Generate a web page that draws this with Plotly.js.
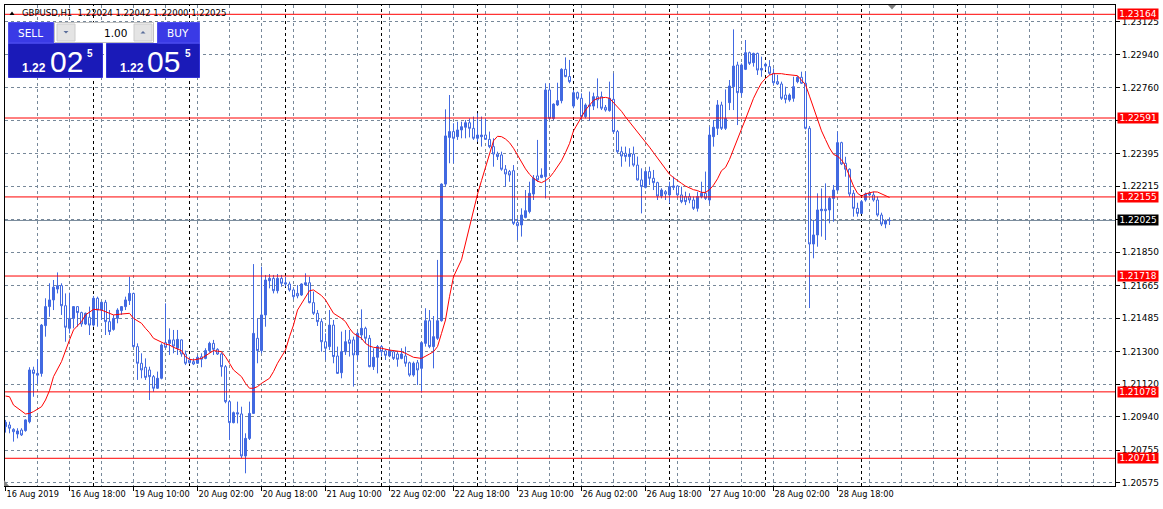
<!DOCTYPE html>
<html><head><meta charset="utf-8">
<script src="https://cdn.plot.ly/plotly-3.0.1.min.js"></script>
<style>html,body{margin:0;padding:0;background:#fff;}#chart{width:1163px;height:509px;}</style>
</head><body><div id="chart"></div>
<script>
// ---------------- DATA ----------------
const symbolName = 'GBPUSD,H1';
const lastBarText = ['1.22024', '1.22042', '1.22000', '1.22025'];

const open = [1.20886,1.20895,1.20871,1.20845,1.20867,1.20864,1.20913,1.21199,1.21180,1.21180,
1.21444,1.21549,1.21586,1.21646,1.21665,1.21554,1.21429,1.21484,1.21549,1.21516,
1.21453,1.21490,1.21447,1.21595,1.21530,1.21573,1.21466,1.21423,1.21484,1.21527,
1.21549,1.21582,1.21622,1.21328,1.21236,1.21214,1.21199,1.21162,1.21098,1.21153,
1.21350,1.21346,1.21365,1.21319,1.21365,1.21287,1.21254,1.21245,1.21236,1.21272,
1.21263,1.21306,1.21346,1.21313,1.21287,1.21217,1.21024,1.20908,1.20963,1.20956,
1.20724,1.20821,1.20959,1.21374,1.21306,1.21503,1.21692,1.21705,1.21637,1.21705,
1.21681,1.21674,1.21641,1.21622,1.21613,1.21670,1.21681,1.21571,1.21512,1.21466,
1.21355,1.21328,1.21447,1.21276,1.21184,1.21300,1.21365,1.21365,1.21282,1.21392,
1.21429,1.21374,1.21217,1.21269,1.21328,1.21304,1.21276,1.21300,1.21287,1.21263,
1.21276,1.21239,1.21171,1.21239,1.21208,1.21346,1.21471,1.21328,1.21374,1.21471,
1.22226,1.22484,1.22516,1.22488,1.22525,1.22540,1.22565,1.22534,1.22479,1.22488,
1.22497,1.22473,1.22433,1.22392,1.22387,1.22308,1.22295,1.22300,1.22013,1.22000,
1.22042,1.22074,1.22171,1.22271,1.22263,1.22267,1.22746,1.22589,1.22663,1.22687,
1.22860,1.22820,1.22657,1.22731,1.22700,1.22599,1.22663,1.22657,1.22709,1.22709,
1.22650,1.22632,1.22694,1.22516,1.22405,1.22396,1.22378,1.22392,1.22331,1.22249,
1.22208,1.22295,1.22258,1.22234,1.22160,1.22184,1.22166,1.22208,1.22215,1.22166,
1.22157,1.22157,1.22138,1.22092,1.22157,1.22175,1.22138,1.22488,1.22534,1.22663,
1.22534,1.22676,1.22764,1.22884,1.22731,1.22860,1.22952,1.22897,1.22948,1.22856,
1.22878,1.22875,1.22838,1.22792,1.22779,1.22718,1.22691,1.22700,1.22792,1.22816,
1.22783,1.22534,1.21895,1.21945,1.22079,1.22087,1.22083,1.22147,1.22193,1.22455,
1.22341,1.22308,1.22175,1.22092,1.22064,1.22138,1.22166,1.22166,1.22138,1.22055,
1.22005,1.22024];

const high = [1.20923,1.20913,1.20877,1.20877,1.20877,1.20926,1.21214,1.21217,1.21258,1.21453,
1.21595,1.21678,1.21696,1.21738,1.21678,1.21622,1.21626,1.21552,1.21552,1.21521,
1.21516,1.21549,1.21608,1.21604,1.21576,1.21586,1.21530,1.21503,1.21540,1.21552,
1.21604,1.21714,1.21626,1.21346,1.21291,1.21263,1.21217,1.21171,1.21190,1.21346,
1.21567,1.21429,1.21420,1.21420,1.21368,1.21306,1.21272,1.21263,1.21282,1.21291,
1.21319,1.21355,1.21365,1.21319,1.21295,1.21226,1.21033,1.20969,1.21024,1.20996,
1.20849,1.21024,1.21784,1.21484,1.21770,1.21724,1.21729,1.21724,1.21729,1.21724,
1.21714,1.21687,1.21650,1.21668,1.21678,1.21733,1.21714,1.21632,1.21530,1.21484,
1.21401,1.21530,1.21475,1.21328,1.21411,1.21420,1.21420,1.21383,1.21411,1.21534,
1.21438,1.21392,1.21319,1.21337,1.21337,1.21313,1.21319,1.21309,1.21300,1.21319,
1.21328,1.21245,1.21245,1.21254,1.21355,1.21540,1.21530,1.21497,1.21807,1.22230,
1.22639,1.22718,1.22562,1.22571,1.22571,1.22580,1.22589,1.22599,1.22617,1.22599,
1.22589,1.22516,1.22479,1.22405,1.22405,1.22331,1.22304,1.22331,1.22037,1.22092,
1.22193,1.22239,1.22276,1.22470,1.22313,1.22783,1.22783,1.22672,1.22786,1.22866,
1.22926,1.22912,1.22746,1.22737,1.22727,1.22672,1.22737,1.22731,1.22810,1.22737,
1.22663,1.22792,1.22838,1.22525,1.22433,1.22433,1.22424,1.22433,1.22378,1.22313,
1.22304,1.22322,1.22304,1.22239,1.22203,1.22193,1.22239,1.22267,1.22221,1.22212,
1.22184,1.22175,1.22157,1.22184,1.22239,1.22295,1.22543,1.22580,1.22690,1.22681,
1.22749,1.22801,1.23081,1.22902,1.22893,1.23022,1.22958,1.22952,1.22952,1.22930,
1.22897,1.22911,1.22865,1.22829,1.22792,1.22764,1.22727,1.22819,1.22823,1.22847,
1.22847,1.22547,1.22028,1.22175,1.22202,1.22230,1.22156,1.22221,1.22516,1.22460,
1.22377,1.22313,1.22193,1.22123,1.22138,1.22179,1.22179,1.22184,1.22156,1.22068,
1.22031,1.22042];

const low = [1.20853,1.20849,1.20803,1.20821,1.20834,1.20858,1.20904,1.21051,1.21121,1.21162,
1.21383,1.21493,1.21530,1.21622,1.21503,1.21355,1.21401,1.21429,1.21438,1.21438,
1.21447,1.21392,1.21438,1.21438,1.21475,1.21392,1.21392,1.21416,1.21457,1.21503,
1.21530,1.21558,1.21324,1.21144,1.21153,1.21144,1.21033,1.21079,1.21094,1.21147,
1.21319,1.21282,1.21291,1.21282,1.21272,1.21226,1.21232,1.21226,1.21232,1.21214,
1.21258,1.21295,1.21282,1.21282,1.21162,1.21015,1.20812,1.20904,1.20904,1.20711,
1.20628,1.20812,1.20956,1.21236,1.21291,1.21438,1.21650,1.21622,1.21622,1.21659,
1.21659,1.21632,1.21589,1.21595,1.21608,1.21663,1.21567,1.21503,1.21442,1.21300,
1.21254,1.21309,1.21236,1.21177,1.21153,1.21282,1.21273,1.21107,1.21254,1.21365,
1.21346,1.21214,1.21199,1.21180,1.21273,1.21254,1.21269,1.21254,1.21217,1.21258,
1.21217,1.21162,1.21162,1.21116,1.21074,1.21328,1.21319,1.21208,1.21365,1.21466,
1.22212,1.22341,1.22341,1.22470,1.22479,1.22479,1.22484,1.22470,1.22460,1.22433,
1.22470,1.22424,1.22322,1.22359,1.22300,1.22212,1.22239,1.22000,1.21917,1.21936,
1.22037,1.22064,1.22138,1.22239,1.22258,1.22147,1.22580,1.22580,1.22657,1.22672,
1.22816,1.22783,1.22645,1.22691,1.22580,1.22589,1.22576,1.22635,1.22645,1.22635,
1.22626,1.22626,1.22506,1.22396,1.22322,1.22350,1.22322,1.22322,1.22245,1.22064,
1.22202,1.22221,1.22193,1.22138,1.22147,1.22138,1.22120,1.22193,1.22157,1.22120,
1.22110,1.22120,1.22083,1.22074,1.22147,1.22138,1.22116,1.22433,1.22497,1.22525,
1.22525,1.22635,1.22635,1.22552,1.22709,1.22856,1.22884,1.22875,1.22829,1.22819,
1.22856,1.22829,1.22773,1.22773,1.22691,1.22672,1.22681,1.22681,1.22783,1.22779,
1.22528,1.21541,1.21816,1.21880,1.21936,1.21917,1.22009,1.22018,1.22184,1.22331,
1.22267,1.22156,1.22046,1.22046,1.22061,1.22129,1.22160,1.22129,1.22046,1.21994,
1.21982,1.22000];

const close = [1.20910,1.20877,1.20858,1.20862,1.20840,1.20923,1.21199,1.21180,1.21170,1.21447,
1.21549,1.21586,1.21656,1.21665,1.21554,1.21435,1.21484,1.21549,1.21516,1.21453,
1.21512,1.21447,1.21595,1.21530,1.21573,1.21466,1.21411,1.21484,1.21530,1.21549,
1.21586,1.21622,1.21328,1.21236,1.21199,1.21158,1.21162,1.21098,1.21153,1.21337,
1.21324,1.21365,1.21331,1.21368,1.21287,1.21236,1.21239,1.21232,1.21269,1.21258,
1.21306,1.21346,1.21313,1.21287,1.21217,1.21024,1.20908,1.20963,1.20956,1.20724,
1.20821,1.20959,1.21401,1.21306,1.21503,1.21696,1.21705,1.21637,1.21705,1.21678,
1.21674,1.21641,1.21604,1.21608,1.21674,1.21681,1.21571,1.21512,1.21466,1.21355,
1.21319,1.21447,1.21273,1.21180,1.21300,1.21355,1.21346,1.21282,1.21401,1.21429,
1.21374,1.21217,1.21269,1.21328,1.21300,1.21280,1.21306,1.21263,1.21258,1.21287,
1.21236,1.21171,1.21236,1.21199,1.21350,1.21471,1.21328,1.21383,1.21471,1.22226,
1.22492,1.22516,1.22479,1.22525,1.22543,1.22565,1.22534,1.22479,1.22497,1.22497,
1.22473,1.22433,1.22392,1.22378,1.22308,1.22282,1.22276,1.22009,1.21996,1.22055,
1.22079,1.22175,1.22258,1.22249,1.22276,1.22746,1.22589,1.22668,1.22687,1.22860,
1.22820,1.22792,1.22731,1.22700,1.22599,1.22663,1.22657,1.22709,1.22691,1.22645,
1.22635,1.22700,1.22516,1.22405,1.22381,1.22378,1.22392,1.22331,1.22249,1.22212,
1.22295,1.22258,1.22234,1.22160,1.22193,1.22171,1.22212,1.22215,1.22166,1.22129,
1.22129,1.22138,1.22092,1.22157,1.22175,1.22147,1.22497,1.22540,1.22663,1.22534,
1.22589,1.22768,1.22878,1.22731,1.22884,1.22952,1.22893,1.22948,1.22856,1.22865,
1.22888,1.22838,1.22786,1.22779,1.22700,1.22694,1.22718,1.22764,1.22816,1.22783,
1.22534,1.21895,1.21945,1.22083,1.22087,1.22079,1.22147,1.22193,1.22455,1.22337,
1.22308,1.22171,1.22092,1.22064,1.22129,1.22171,1.22175,1.22138,1.22055,1.22005,
1.22024,1.22025];

// moving average (bar number, value)
const maBar = [0,1,2,4,5,6,7,9,10,11,12,14,15,16,17,19,20,21,22,24,25,26,27,29,30,31,32,34,35,36,37,39,40,41,42,44,45,46,47,49,50,51,52,54,55,56,57,59,60,61,62,63,64,66,67,68,70,71,72,73,75,76,77,78,79,80,81,82,84,85,86,87,89,90,91,92,94,95,96,97,99,100,101,102,104,105,106,107,108,109,110,111,112,
114,115,116,117,118,119,120,121,122,123,124,125,126,127,128,129,130,131,132,133,134,135,136,137,138,139,140,141,142,143,144,145,146,147,148,149,150,151,152,153,154,155,156,157,158,159,160,161,162,163,164,165,166,167,168,169,170,171,172,173,174,175,176,177,178,
179,180,181,182,183,184,185,186,187,188,189,190,191,192,193,194,195,196,197,198,199,200,201,202,203,204,205,206,207,208,209,210,211,212,213,214,215,216,217,218,219,220,221];
const maValue = [1.21055,1.21051,1.21005,1.20969,1.20956,1.20959,1.20969,1.20996,1.21033,1.21085,1.21162,1.21245,1.21309,1.21365,1.21420,1.21466,1.21503,1.21521,1.21534,1.21530,1.21521,1.21508,1.21503,1.21508,1.21512,1.21512,1.21484,1.21457,1.21429,1.21405,1.21374,1.21350,1.21342,1.21337,1.21324,1.21306,1.21272,1.21258,1.21254,1.21263,1.21278,1.21295,1.21306,1.21300,1.21272,1.21236,1.21199,1.21162,1.21125,1.21098,1.21098,1.21107,1.21125,1.21153,1.21190,1.21236,1.21309,1.21383,1.21447,1.21530,1.21604,1.21637,1.21641,1.21626,1.21610,1.21586,1.21549,1.21512,1.21484,1.21466,1.21429,1.21401,1.21374,1.21346,1.21331,1.21324,1.21319,1.21313,1.21309,1.21306,1.21300,1.21291,1.21282,1.21269,1.21263,1.21273,1.21287,1.21300,1.21328,1.21401,1.21475,1.21604,1.21714,
1.21808,1.21900,1.21995,1.22080,1.22170,1.22245,1.22320,1.22400,1.22465,1.22490,1.22488,1.22475,1.22455,1.22424,1.22385,1.22350,1.22310,1.22280,1.22258,1.22242,1.22234,1.22245,1.22262,1.22290,1.22320,1.22355,1.22400,1.22450,1.22520,1.22560,1.22595,1.22635,1.22662,1.22688,1.22700,1.22703,1.22705,1.22700,1.22675,1.22655,1.22628,1.22597,1.22570,1.22540,1.22510,1.22485,1.22460,1.22430,1.22400,1.22370,1.22335,1.22305,1.22280,1.22262,1.22248,1.22230,1.22215,1.22205,1.22195,1.22190,1.22180,1.22180,1.22195,1.22220,1.22255,
1.22300,1.22318,1.22362,1.22415,1.22470,1.22530,1.22585,1.22648,1.22700,1.22745,1.22785,1.22810,1.22828,1.22836,1.22838,1.22836,1.22832,1.22829,1.22829,1.22825,1.22800,1.22775,1.22712,1.22650,1.22585,1.22520,1.22472,1.22425,1.22390,1.22380,1.22360,1.22325,1.22270,1.22215,1.22175,1.22160,1.22172,1.22179,1.22183,1.22182,1.22172,1.22160,1.22152];

const timeLabels = ['16 Aug 2019','16 Aug 18:00','19 Aug 10:00','20 Aug 02:00','20 Aug 18:00','21 Aug 10:00','22 Aug 02:00','22 Aug 18:00','23 Aug 10:00','26 Aug 02:00','26 Aug 18:00','27 Aug 10:00','28 Aug 02:00','28 Aug 18:00'];
const barsPerLabel = 16;
const priceTicks = ['1.23125','1.22940','1.22760','1.22580','1.22395','1.22215','1.22030','1.21850','1.21665','1.21485','1.21300','1.21120','1.20940','1.20755','1.20575'];
const hiddenPriceTicks = ['1.22580', '1.22030'];   // covered by line labels in the terminal
const levelLines = [1.23164, 1.22591, 1.22155, 1.21718, 1.21078, 1.20711];
const levelLabels = ['1.23164','1.22591','1.22155','1.21718','1.21078','1.20711'];
const bidPrice = 1.22025;
const bidLabel = '1.22025';
const daySeparatorBars = [22, 46, 70, 94, 118, 142, 166, 190, 214, 238];
const sellQuote = ['1.22', '02', '5'];
const buyQuote = ['1.22', '05', '5'];
const lotSize = '1.00';

// ---------------- LAYOUT HELPERS ----------------
const W = 1163, H = 509, ML = 5, MR = 48, MT = 5, MB = 23;
const PW = W - ML - MR, PH = H - MT - MB;
const px = x => (x - ML) / PW;
const py = y => (H - MB - y) / PH;
const FONT = 'DejaVu Sans, Verdana, sans-serif';
const GRID = '#778899';
const BLUE = '#4169E1';

const bars = open.map((_, i) => i);

const candle = {
  type: 'candlestick', x: bars, open: open, high: high, low: low, close: close,
  line: {width: 1},
  increasing: {line: {color: BLUE, width: 1}, fillcolor: BLUE},
  decreasing: {line: {color: BLUE, width: 1}, fillcolor: '#FFFFFF'},
  whiskerwidth: 0, hoverinfo: 'skip', showlegend: false
};
const ma = {
  type: 'scatter', mode: 'lines', x: maBar, y: maValue,
  line: {color: '#FF0000', width: 1}, hoverinfo: 'skip', showlegend: false
};

const shapes = [];
daySeparatorBars.forEach(b => shapes.push({type: 'line', xref: 'x', yref: 'paper', x0: b, x1: b, y0: 0, y1: 1,
  line: {color: '#000000', width: 1, dash: '3px,3px'}, layer: 'between'}));
shapes.push({type: 'line', xref: 'paper', yref: 'y', x0: 0, x1: 1, y0: bidPrice, y1: bidPrice,
  line: {color: GRID, width: 1}, layer: 'between'});
levelLines.forEach(v => shapes.push({type: 'line', xref: 'paper', yref: 'y', x0: 0, x1: 1, y0: v, y1: v,
  line: {color: '#FF0000', width: 1}, layer: 'above'}));

function rect(x0, y0, x1, y1, fill, lineColor) {
  shapes.push({type: 'rect', xref: 'paper', yref: 'paper', x0: px(x0), x1: px(x1), y0: py(y1), y1: py(y0),
    fillcolor: fill, line: {color: lineColor || fill, width: lineColor ? 1 : 0}, layer: 'above'});
}
function path(pts, fill) {
  const d = pts.map((p, k) => (k ? 'L' : 'M') + px(p[0]) + ',' + py(p[1])).join(' ') + ' Z';
  shapes.push({type: 'path', xref: 'paper', yref: 'paper', path: d, fillcolor: fill, line: {width: 0}, layer: 'above'});
}
// one-click trading panel
rect(8.5, 43.5, 102.5, 77.5, '#1A1AB8', '#3030D8');
rect(106.5, 43.5, 199.5, 77.5, '#1A1AB8', '#3030D8');
rect(8.5, 22.5, 53.5, 43, '#3A3AE6', '#5050F0');
rect(157.5, 22.5, 199.5, 43, '#3A3AE6', '#5050F0');
rect(54.5, 22.5, 153.5, 42.5, '#FFFFFF', '#C0C0C0');
rect(57, 24, 75, 41, '#E4E4E4', '#CCCCCC');
rect(134, 24, 152, 41, '#E4E4E4', '#CCCCCC');
path([[63.5, 31], [68.5, 31], [66, 33.5]], '#5A6E9A');
path([[140.5, 33.5], [145.5, 33.5], [143, 31]], '#5A6E9A');
// symbol marker and chart shift markers
path([[9.5, 15], [14.5, 15], [12, 11.5]], '#000000');
path([[888, 5], [896, 5], [892, 9.5]], '#808080');
path([[4, 480], [4, 486], [9, 486]], '#808080');

const annotations = [];
function txt(x, y, text, size, color, anchor, family) {
  annotations.push({xref: 'paper', yref: 'paper', x: px(x), y: py(y), text: text, showarrow: false,
    xanchor: anchor || 'center', yanchor: 'middle', font: {family: family || FONT, size: size, color: color}});
}
txt(20, 12.5, symbolName + '  ' + lastBarText.join(' '), 8.5, '#000000', 'left');
txt(30.5, 33, 'SELL', 10.5, '#FFFFFF');
txt(178, 33, 'BUY', 10.5, '#FFFFFF');
txt(128.5, 32.5, lotSize, 10.5, '#000000', 'right');
const BIG = 'Liberation Sans, Arial, sans-serif';
txt(34, 67.5, '<b>' + sellQuote[0] + '</b>', 12, '#FFFFFF', 'center', BIG);
txt(66, 61.5, sellQuote[1], 30, '#FFFFFF', 'center', BIG);
txt(89.5, 54, '<b>' + sellQuote[2] + '</b>', 10, '#FFFFFF', 'center', BIG);
txt(132, 67.5, '<b>' + buyQuote[0] + '</b>', 12, '#FFFFFF', 'center', BIG);
txt(163.5, 61.5, buyQuote[1], 30, '#FFFFFF', 'center', BIG);
txt(187.5, 54, '<b>' + buyQuote[2] + '</b>', 10, '#FFFFFF', 'center', BIG);

// price labels of the horizontal lines
levelLines.forEach((v, k) => annotations.push({xref: 'paper', yref: 'y', x: 1, xshift: 2, y: v, xanchor: 'left', yanchor: 'middle',
  text: levelLabels[k], showarrow: false, bgcolor: '#FF0000', borderpad: 0, width: 40, height: 10, align: 'center',
  font: {family: FONT, size: 9, color: '#FFFFFF'}}));
annotations.push({xref: 'paper', yref: 'y', x: 1, xshift: 2, y: bidPrice, xanchor: 'left', yanchor: 'middle',
  text: bidLabel, showarrow: false, bgcolor: '#000000', borderpad: 0, width: 40, height: 10, align: 'center',
  font: {family: FONT, size: 9, color: '#FFFFFF'}});

const layout = {
  width: W, height: H,
  margin: {l: ML, r: MR, t: MT, b: MB, pad: 0},
  paper_bgcolor: '#FFFFFF', plot_bgcolor: '#FFFFFF',
  showlegend: false, boxgap: 0.3, boxgroupgap: 0.2857,
  xaxis: {
    range: [-0.125, 277.375], fixedrange: true, zeroline: false,
    tickmode: 'array', tickvals: timeLabels.map((_, k) => k * barsPerLabel), ticktext: timeLabels,
    ticklabelposition: 'outside right', tickangle: 0,
    ticks: 'outside', ticklen: 4, tickcolor: '#000000',
    showgrid: true, gridcolor: GRID, griddash: '3px,3px', gridwidth: 1,
    minor: {tickmode: 'linear', tick0: 0, dtick: 8, showgrid: true, gridcolor: GRID, griddash: '3px,3px', gridwidth: 1, ticks: ''},
    showline: true, linecolor: '#000000', linewidth: 1, mirror: true,
    tickfont: {family: FONT, size: 8.2, color: '#000000'},
    rangeslider: {visible: false}
  },
  yaxis: {
    side: 'right', range: [1.205579, 1.232154], fixedrange: true, zeroline: false,
    tickmode: 'array', tickvals: priceTicks.map(Number),
    ticktext: priceTicks.map(t => hiddenPriceTicks.includes(t) ? '' : t),
    ticks: 'outside', ticklen: 4, tickcolor: '#000000',
    showgrid: true, gridcolor: GRID, griddash: '3px,3px', gridwidth: 1,
    showline: true, linecolor: '#000000', linewidth: 1, mirror: true,
    tickfont: {family: FONT, size: 9, color: '#000000'}
  },
  shapes: shapes,
  annotations: annotations
};

Plotly.newPlot('chart', [candle, ma], layout, {staticPlot: true, displayModeBar: false});
</script>
</body></html>
